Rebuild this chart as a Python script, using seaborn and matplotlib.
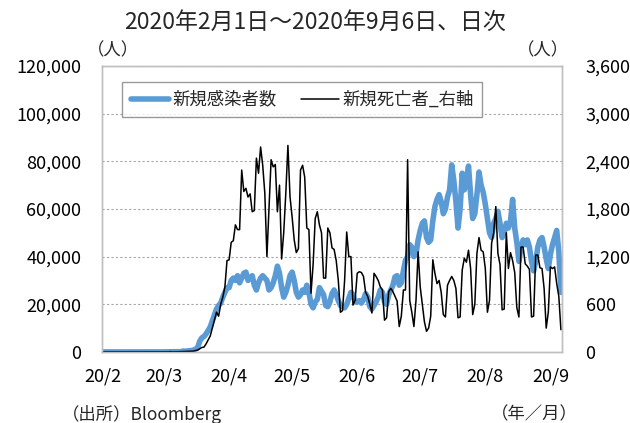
import pandas as pd
import seaborn as sns
import matplotlib.pyplot as plt
from matplotlib.ticker import FuncFormatter, MultipleLocator
from matplotlib.lines import Line2D

# Daily new cases (people), by month
FEB_CASES = [1, 0, 3, 0, 0, 0, 1, 0, 1, 0, 1, 0, 1, 0, 0, 1, 0, 0, 0, 1, 1, 0, 0, 0, 14, 0, 1, 3, 1]
MAR_CASES = [8, 23, 20, 31, 68, 45, 140, 116, 65, 376, 322, 382, 516, 548, 772, 1133, 1800, 4500,
             5900, 6500, 7500, 9000, 10500, 13000, 15500, 18000, 19500, 20500, 23000, 25000, 27000]
APR_CASES = [27000, 30000, 31000, 30000, 32000, 29000, 31000, 33000, 33500, 30000, 31000, 32000,
             28000, 26000, 29000, 31000, 32000, 31000, 30000, 26000, 27000, 29000, 32000, 36000,
             33000, 27000, 23000, 25000, 28000, 32000]
MAY_CASES = [33500, 30000, 25000, 23000, 24000, 26000, 25000, 28000, 25000, 20000, 18500, 21000,
             22000, 27000, 25500, 24000, 19500, 19000, 21000, 24500, 26000, 24000, 21500, 19500,
             19000, 18500, 20000, 22500, 25000, 24000, 21000]
JUN_CASES = [21000, 21500, 20500, 22000, 24500, 23000, 19000, 18000, 19500, 21000, 23000, 26000,
             25000, 21000, 20000, 24000, 26000, 28000, 31500, 32000, 28000, 29000, 34000, 38500,
             40000, 45000, 44000, 40000, 41000, 47000]
JUL_CASES = [51000, 54000, 55000, 48000, 46000, 47000, 55000, 61000, 64000, 66000, 63000, 58000,
             60000, 65000, 68000, 78500, 72000, 63000, 52000, 60000, 75000, 68000, 72000, 78000,
             66000, 56000, 58000, 66000, 75500, 70000, 67000]
AUG_CASES = [62000, 56000, 50000, 48000, 54000, 56000, 59000, 54000, 48000, 50000, 54000, 52000,
             55000, 64000, 52000, 46000, 38000, 44000, 47000, 45000, 47000, 44000, 38000, 34000,
             38000, 44000, 47000, 48000, 44000, 39000, 35000]
SEP_CASES = [41000, 45000, 48000, 51000, 42000, 25000]

# Daily new deaths (people, right axis), by month
FEB_DEATHS = [0] * 28 + [1]
MAR_DEATHS = [0, 0, 1, 4, 1, 1, 2, 3, 4, 4, 7, 8, 8, 9, 10, 18, 23, 40, 56, 60, 100, 150, 200,
              300, 400, 500, 450, 600, 690, 820, 1150]
APR_DEATHS = [1160, 1380, 1400, 1600, 1540, 1540, 2290, 2020, 2060, 1950, 1990, 1765, 1780, 2440,
              2250, 2580, 2350, 2000, 1200, 1800, 2420, 2330, 2360, 1765, 2100, 1170, 1500, 2000,
              2600, 1955]
MAY_DEATHS = [1700, 1410, 1250, 1300, 2290, 2350, 2200, 1560, 1540, 740, 1100, 1680, 1765, 1600,
              1500, 930, 930, 1560, 1500, 1310, 1290, 1150, 900, 500, 520, 900, 1510, 1200, 1200,
              590, 650]
JUN_DEATHS = [990, 1010, 1000, 950, 750, 700, 600, 490, 990, 950, 900, 820, 780, 400, 430, 760,
              800, 760, 700, 640, 320, 450, 780, 780, 2420, 650, 500, 320, 650, 1260]
JUL_DEATHS = [820, 600, 380, 260, 300, 450, 1160, 990, 860, 900, 750, 470, 440, 840, 900, 950,
              900, 800, 430, 440, 1030, 1180, 1130, 1280, 1050, 470, 600, 1240, 1440, 1280, 1260]
AUG_DEATHS = [1050, 500, 650, 1370, 1500, 1830, 1240, 1100, 530, 540, 1500, 1050, 1250, 1150,
              1000, 560, 440, 1320, 1320, 1110, 1080, 1040, 440, 450, 1220, 1220, 1060, 1050, 800,
              300, 500]
SEP_DEATHS = [1070, 1050, 1070, 860, 700, 280]

MONTH_TICKS = ["2020-02-01", "2020-03-01", "2020-04-01", "2020-05-01", "2020-06-01",
               "2020-07-01", "2020-08-01", "2020-09-01"]
MONTH_LABELS = ["20/2", "20/3", "20/4", "20/5", "20/6", "20/7", "20/8", "20/9"]

cases = (FEB_CASES + MAR_CASES + APR_CASES + MAY_CASES + JUN_CASES + JUL_CASES
         + AUG_CASES + SEP_CASES)
deaths = (FEB_DEATHS + MAR_DEATHS + APR_DEATHS + MAY_DEATHS + JUN_DEATHS + JUL_DEATHS
          + AUG_DEATHS + SEP_DEATHS)

df = pd.DataFrame({
    "date": pd.date_range("2020-02-01", "2020-09-06", freq="D"),
    "cases": cases,
    "deaths": deaths,
})

sns.set_style("white")
plt.rcParams["font.family"] = ["Noto Sans CJK JP", "DejaVu Sans"]

BLUE = "#5b9bd5"
GRID = "#a6a6a6"
SPINE = "#bfbfbf"

fig, ax = plt.subplots(figsize=(6.3, 4.23), dpi=100)
fig.subplots_adjust(left=0.162, right=0.892, bottom=0.168, top=0.844)
ax2 = ax.twinx()

sns.lineplot(data=df, x="date", y="cases", ax=ax, color=BLUE, linewidth=4.0,
             solid_joinstyle="round")
sns.lineplot(data=df, x="date", y="deaths", ax=ax2, color="black", linewidth=1.1)

ax.set_xlim(pd.Timestamp("2020-01-31 12:00"), pd.Timestamp("2020-09-06 12:00"))
ax.set_ylim(0, 120000)
ax2.set_ylim(0, 3600)
ax.yaxis.set_major_locator(MultipleLocator(20000))
ax2.yaxis.set_major_locator(MultipleLocator(600))
ax.yaxis.set_major_formatter(FuncFormatter(lambda v, p: f"{int(v):,}"))
ax2.yaxis.set_major_formatter(FuncFormatter(lambda v, p: f"{int(v):,}"))
ax.set_xticks(pd.to_datetime(MONTH_TICKS))
ax.set_xticklabels(MONTH_LABELS)

ax.yaxis.grid(True, linestyle=(0, (2, 2)), color=GRID, linewidth=0.8)
ax.set_axisbelow(True)
ax2.grid(False)

for a in (ax, ax2):
    a.set_xlabel("")
    a.set_ylabel("")
    a.tick_params(length=0, labelsize=13, colors="black")
    for s in a.spines.values():
        s.set_color(SPINE)
        s.set_linewidth(1.0)
ax.tick_params(axis="x", pad=11)
ax.tick_params(axis="y", pad=15)
ax2.tick_params(axis="y", pad=17)

handles = [Line2D([], [], color=BLUE, linewidth=4.0),
           Line2D([], [], color="black", linewidth=1.1)]
leg = ax2.legend(handles, ["新規感染者数", "新規死亡者_右軸"], ncol=2, loc="upper left",
                 bbox_to_anchor=(0.043, 0.944), borderaxespad=0, frameon=True, fancybox=False,
                 fontsize=12.5, handlelength=2.2, columnspacing=1.4, borderpad=0.5,
                 handletextpad=0.2)
leg.get_frame().set_edgecolor("#808080")
leg.get_frame().set_linewidth(1.0)

fig.text(0.5, 0.948, "2020年2月1日～2020年9月6日、日次", ha="center", va="center", fontsize=16.5)
fig.text(113 / 630, 1 - 50 / 423, "（人）", ha="center", va="center", fontsize=12.5)
fig.text(543 / 630, 1 - 50 / 423, "（人）", ha="center", va="center", fontsize=12.5)
fig.text(62 / 630, 1 - 414 / 423, "（出所）Bloomberg", ha="left", va="center", fontsize=12.5)
fig.text(578 / 630, 1 - 414 / 423, "（年／月）", ha="right", va="center", fontsize=12.5)

fig.savefig("out.png", dpi=100)
